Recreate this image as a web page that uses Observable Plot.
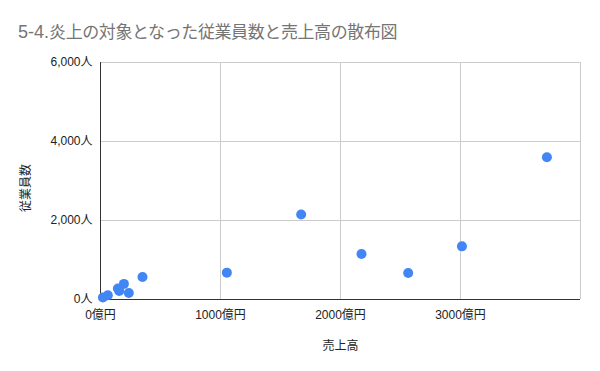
<!DOCTYPE html>
<html>
<head>
<meta charset="utf-8">
<script src="https://cdn.jsdelivr.net/npm/d3@7"></script>
<script src="https://cdn.jsdelivr.net/npm/@observablehq/plot@0.6"></script>
<style>
  html, body { margin: 0; padding: 0; background: #fff; }
  #wrap { width: 600px; height: 371px; position: relative; font-family: "Liberation Sans", Arial, "Noto Sans CJK JP", sans-serif; }
  #title { height: 50px; box-sizing: border-box; padding: 22px 0 0 18px; line-height: 20px; color: #757575; white-space: nowrap; }
  #title .num { font-size: 18px; }
  #title .jp { font-size: 17px; letter-spacing: -0.4px; }
</style>
</head>
<body>
<div id="wrap">
  <div id="title"><span class="num">5-4.</span><span class="jp">炎上の対象となった従業員数と売上高の散布図</span></div>
  <div id="chart"></div>
</div>
<script>
// 売上高 (億円)
const sales = [3720, 1672, 2175, 2564, 3012, 1053, 350, 195, 145, 156, 236, 61, 20];
// 従業員数 (人)
const employees = [3600, 2150, 1150, 670, 1345, 680, 570, 395, 280, 215, 165, 108, 50];
const xTicks = [0, 1000, 2000, 3000];
const xGrid = [1000, 2000, 3000, 4000];
const yTicks = [0, 2000, 4000, 6000];
const xTitle = "売上高";
const yTitle = "従業員数";

const data = sales.map((s, i) => ({sales: s, employees: employees[i]}));

const chart = Plot.plot({
  width: 600,
  height: 321,
  marginLeft: 100,
  marginRight: 20,
  marginTop: 12,
  marginBottom: 72,
  style: { fontFamily: '"Liberation Sans", Arial, "Noto Sans CJK JP", sans-serif', fontSize: "12px", color: "#222", background: "#fff" },
  x: { domain: [0, 4000] },
  y: { domain: [0, 6000] },
  marks: [
    Plot.gridX(xGrid, { stroke: "#cccccc", strokeOpacity: 1 }),
    Plot.gridY(yTicks.slice(1), { stroke: "#cccccc", strokeOpacity: 1 }),
    Plot.axisX(xTicks, { tickSize: 0, tickPadding: 11, tickFormat: d => d + "億円", label: null, fill: "#222" }),
    Plot.axisY(yTicks, { tickSize: 0, tickPadding: 8, tickFormat: d => d3.format(",")(d) + "人", label: null, fill: "#222" }),
    Plot.ruleY([0], { stroke: "#333" }),
    Plot.ruleX([0], { stroke: "#333" }),
    Plot.dot(data, { x: "sales", y: "employees", r: 5, fill: "#4285f4", stroke: null }),
    Plot.text([xTitle], { frameAnchor: "bottom", dy: 50, fontSize: 12, fill: "#222" }),
    Plot.text([yTitle], { frameAnchor: "left", dx: -74, dy: 31, rotate: -90, fontSize: 12, fill: "#222" })
  ]
});
document.getElementById("chart").appendChild(chart);
</script>
</body>
</html>
